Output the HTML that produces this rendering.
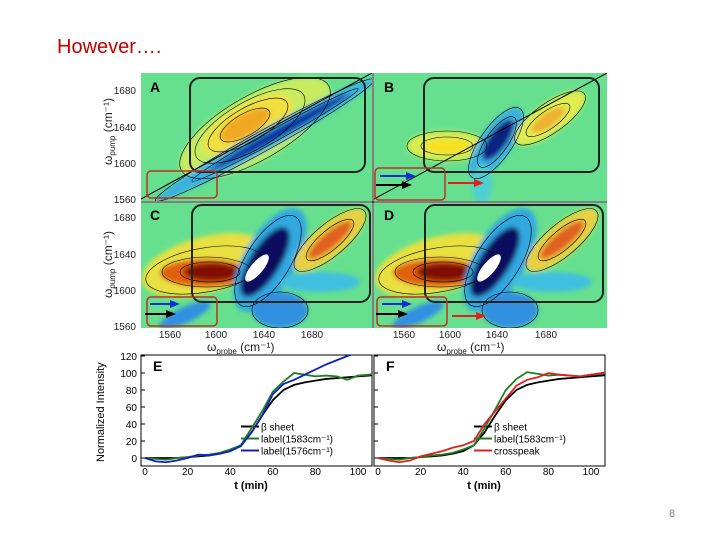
<!DOCTYPE html>
<html><head><meta charset="utf-8"><style>
body{margin:0;background:#fff;width:720px;height:540px;overflow:hidden;position:relative;font-family:"Liberation Sans",sans-serif}
#title{position:absolute;left:57px;top:36px;font-size:20px;color:#c00000}
#pnum{position:absolute;left:669px;top:508px;font-size:11px;color:#888}
svg{position:absolute;left:0;top:0}
</style></head><body>
<div id="title">However….</div>
<div id="pnum">8</div>
<svg width="720" height="540" font-family="Liberation Sans, sans-serif">
<defs>
<filter id="bl" x="-30%" y="-30%" width="160%" height="160%"><feGaussianBlur stdDeviation="2.5"/></filter>
<clipPath id="cA"><rect x="141" y="73" width="231" height="128"/></clipPath>
<clipPath id="cB"><rect x="374" y="73" width="233" height="128"/></clipPath>
<clipPath id="cC"><rect x="141" y="203" width="231" height="125"/></clipPath>
<clipPath id="cD"><rect x="374" y="203" width="233" height="125"/></clipPath>
</defs>
<!-- Panel A -->
<g clip-path="url(#cA)">
<rect x="141" y="73" width="231" height="128" fill="#66e08e"/>
<g filter="url(#bl)">
<ellipse cx="255" cy="128" rx="85" ry="32" transform="rotate(-30 255 128)" fill="#c8ec60"/>
<ellipse cx="248" cy="125" rx="50" ry="20" transform="rotate(-30 248 125)" fill="#f0e040"/>
<ellipse cx="245" cy="125" rx="28" ry="11" transform="rotate(-30 245 125)" fill="#f0a820"/>
<ellipse cx="265" cy="140" rx="125" ry="10" transform="rotate(-29 265 140)" fill="#3bb0e0"/>
<ellipse cx="280" cy="132" rx="80" ry="5" transform="rotate(-29 280 132)" fill="#1030a0"/>
</g>
<g fill="none" stroke="#000" stroke-width="0.6">
<ellipse cx="255" cy="128" rx="85" ry="32" transform="rotate(-30 255 128)"/>
<ellipse cx="250" cy="126" rx="62" ry="24" transform="rotate(-30 250 126)"/>
<ellipse cx="248" cy="125" rx="45" ry="17" transform="rotate(-30 248 125)"/>
<ellipse cx="245" cy="125" rx="28" ry="11" transform="rotate(-30 245 125)"/>
<ellipse cx="265" cy="140" rx="125" ry="10" transform="rotate(-29 265 140)"/>
<ellipse cx="275" cy="135" rx="95" ry="6" transform="rotate(-29 275 135)"/>
</g>
<line x1="141" y1="199" x2="372" y2="73" stroke="#000" stroke-width="1"/>
<rect x="190" y="78" width="175" height="94" rx="10" fill="none" stroke="#222" stroke-width="2"/>
<rect x="147" y="171" width="70" height="27" rx="4" fill="none" stroke="#c03020" stroke-width="1.5"/>
<text x="150" y="92" font-size="14" font-weight="bold">A</text>
</g>
<!-- Panel B -->
<g clip-path="url(#cB)">
<rect x="374" y="73" width="233" height="128" fill="#66e08e"/>
<g filter="url(#bl)">
<ellipse cx="447" cy="146" rx="40" ry="15" fill="#d8ec50"/>
<ellipse cx="447" cy="146" rx="22" ry="7" fill="#f8e020"/>
<ellipse cx="496" cy="143" rx="42" ry="16" transform="rotate(-55 496 143)" fill="#3bb0e0"/>
<ellipse cx="498" cy="140" rx="24" ry="9" transform="rotate(-55 498 140)" fill="#102080"/>
<ellipse cx="550" cy="118" rx="42" ry="15" transform="rotate(-35 550 118)" fill="#e0ec50"/>
<ellipse cx="548" cy="120" rx="20" ry="7" transform="rotate(-35 548 120)" fill="#f0b030"/>
<ellipse cx="482" cy="185" rx="10" ry="20" fill="#50d0d0"/>
</g>
<g fill="none" stroke="#000" stroke-width="0.6">
<ellipse cx="447" cy="146" rx="40" ry="15"/><ellipse cx="447" cy="146" rx="26" ry="9"/>
<ellipse cx="496" cy="143" rx="42" ry="16" transform="rotate(-55 496 143)"/>
<ellipse cx="497" cy="142" rx="30" ry="11" transform="rotate(-55 497 142)"/>
<ellipse cx="550" cy="118" rx="42" ry="15" transform="rotate(-35 550 118)"/>
<ellipse cx="548" cy="120" rx="26" ry="9" transform="rotate(-35 548 120)"/>
</g>
<line x1="374" y1="199" x2="607" y2="73" stroke="#000" stroke-width="1"/>
<rect x="424" y="78" width="175" height="94" rx="10" fill="none" stroke="#222" stroke-width="2"/>
<rect x="375" y="168" width="70" height="32" rx="4" fill="none" stroke="#c03020" stroke-width="1.5"/>
<line x1="380" y1="176" x2="408" y2="176" stroke="#1030d0" stroke-width="2"/><path d="M406,172L416,176L406,180z" fill="#1030d0"/>
<line x1="376" y1="185" x2="404" y2="185" stroke="#000" stroke-width="2"/><path d="M402,181L412,185L402,189z" fill="#000"/>
<line x1="448" y1="183" x2="476" y2="183" stroke="#e02020" stroke-width="2"/><path d="M474,179L484,183L474,187z" fill="#e02020"/>
<text x="384" y="92" font-size="14" font-weight="bold">B</text>
</g>
<!-- Panel C -->
<g clip-path="url(#cC)">
<rect x="141" y="203" width="231" height="125" fill="#66e08e"/>
<g filter="url(#bl)">
<ellipse cx="205" cy="265" rx="65" ry="28" transform="rotate(-15 205 265)" fill="#e8e040"/>
<ellipse cx="205" cy="273" rx="45" ry="14" fill="#e06010"/>
<ellipse cx="212" cy="272" rx="28" ry="9" fill="#801000"/>
<ellipse cx="270" cy="260" rx="58" ry="26" transform="rotate(-60 270 260)" fill="#30a8e0"/>
<ellipse cx="265" cy="262" rx="40" ry="15" transform="rotate(-58 265 262)" fill="#0a1060"/>
<ellipse cx="280" cy="310" rx="28" ry="18" fill="#3090e0"/>
<ellipse cx="320" cy="282" rx="40" ry="10" fill="#40c0e0"/>
<ellipse cx="330" cy="240" rx="45" ry="16" transform="rotate(-40 330 240)" fill="#e8d040"/>
<ellipse cx="330" cy="240" rx="28" ry="8" transform="rotate(-40 330 240)" fill="#e06020"/>
<ellipse cx="185" cy="315" rx="28" ry="8" transform="rotate(-25 185 315)" fill="#3090e0"/>
</g>
<g fill="none" stroke="#000" stroke-width="0.6">
<ellipse cx="205" cy="270" rx="60" ry="22" transform="rotate(-10 205 270)"/>
<ellipse cx="207" cy="272" rx="45" ry="15"/><ellipse cx="210" cy="272" rx="30" ry="10"/>
<ellipse cx="268" cy="261" rx="52" ry="22" transform="rotate(-58 268 261)"/>
<ellipse cx="330" cy="240" rx="45" ry="16" transform="rotate(-40 330 240)"/>
<ellipse cx="330" cy="240" rx="30" ry="10" transform="rotate(-40 330 240)"/>
<ellipse cx="280" cy="310" rx="28" ry="18"/>
</g>
<ellipse cx="257" cy="268" rx="17" ry="6" transform="rotate(-50 257 268)" fill="#fff"/>
<rect x="192" y="205" width="178" height="97" rx="10" fill="none" stroke="#222" stroke-width="2"/>
<rect x="147" y="297" width="70" height="29" rx="4" fill="none" stroke="#c03020" stroke-width="1.5"/>
<line x1="150" y1="304" x2="172" y2="304" stroke="#1030d0" stroke-width="2"/><path d="M170,300L180,304L170,308z" fill="#1030d0"/>
<line x1="145" y1="314" x2="168" y2="314" stroke="#000" stroke-width="2"/><path d="M166,310L176,314L166,318z" fill="#000"/>
<text x="150" y="220" font-size="14" font-weight="bold">C</text>
</g>
<!-- Panel D -->
<g clip-path="url(#cD)">
<rect x="374" y="203" width="233" height="125" fill="#66e08e"/>
<g filter="url(#bl)">
<ellipse cx="438" cy="265" rx="65" ry="28" transform="rotate(-15 438 265)" fill="#e8e040"/>
<ellipse cx="438" cy="273" rx="45" ry="14" fill="#e06010"/>
<ellipse cx="445" cy="272" rx="28" ry="9" fill="#801000"/>
<ellipse cx="500" cy="260" rx="58" ry="26" transform="rotate(-60 500 260)" fill="#30a8e0"/>
<ellipse cx="495" cy="262" rx="40" ry="15" transform="rotate(-58 495 262)" fill="#0a1060"/>
<ellipse cx="510" cy="310" rx="28" ry="18" fill="#3090e0"/>
<ellipse cx="552" cy="282" rx="40" ry="10" fill="#40c0e0"/>
<ellipse cx="562" cy="240" rx="45" ry="16" transform="rotate(-40 562 240)" fill="#e8d040"/>
<ellipse cx="562" cy="240" rx="28" ry="8" transform="rotate(-40 562 240)" fill="#e06020"/>
<ellipse cx="418" cy="315" rx="28" ry="8" transform="rotate(-25 418 315)" fill="#3090e0"/>
</g>
<g fill="none" stroke="#000" stroke-width="0.6">
<ellipse cx="438" cy="270" rx="60" ry="22" transform="rotate(-10 438 270)"/>
<ellipse cx="440" cy="272" rx="45" ry="15"/><ellipse cx="443" cy="272" rx="30" ry="10"/>
<ellipse cx="498" cy="261" rx="52" ry="22" transform="rotate(-58 498 261)"/>
<ellipse cx="562" cy="240" rx="45" ry="16" transform="rotate(-40 562 240)"/>
<ellipse cx="562" cy="240" rx="30" ry="10" transform="rotate(-40 562 240)"/>
<ellipse cx="510" cy="310" rx="28" ry="18"/>
</g>
<ellipse cx="489" cy="268" rx="17" ry="6" transform="rotate(-50 489 268)" fill="#fff"/>
<rect x="425" y="205" width="178" height="97" rx="10" fill="none" stroke="#222" stroke-width="2"/>
<rect x="377" y="297" width="70" height="29" rx="4" fill="none" stroke="#c03020" stroke-width="1.5"/>
<line x1="382" y1="304" x2="404" y2="304" stroke="#1030d0" stroke-width="2"/><path d="M402,300L412,304L402,308z" fill="#1030d0"/>
<line x1="376" y1="314" x2="400" y2="314" stroke="#000" stroke-width="2"/><path d="M398,310L408,314L398,318z" fill="#000"/>
<line x1="452" y1="316" x2="478" y2="316" stroke="#e02020" stroke-width="2"/><path d="M476,312L486,316L476,320z" fill="#e02020"/>
<text x="384" y="220" font-size="14" font-weight="bold">D</text>
</g>
<line x1="373" y1="73" x2="373" y2="328" stroke="#000"/>
<line x1="141" y1="202" x2="607" y2="202" stroke="#000"/>
<g font-size="10" fill="#222">
<text x="136" y="94" text-anchor="end">1680</text><text x="136" y="131" text-anchor="end">1640</text><text x="136" y="167" text-anchor="end">1600</text><text x="136" y="203" text-anchor="end">1560</text>
<text x="136" y="221" text-anchor="end">1680</text><text x="136" y="258" text-anchor="end">1640</text><text x="136" y="294" text-anchor="end">1600</text><text x="136" y="330" text-anchor="end">1560</text>
<text x="170" y="338" text-anchor="middle">1560</text><text x="216" y="338" text-anchor="middle">1600</text><text x="264" y="338" text-anchor="middle">1640</text><text x="312" y="338" text-anchor="middle">1680</text>
<text x="404" y="338" text-anchor="middle">1560</text><text x="450" y="338" text-anchor="middle">1600</text><text x="497" y="338" text-anchor="middle">1640</text><text x="546" y="338" text-anchor="middle">1680</text>
<text x="207" y="351" font-size="12">ω<tspan font-size="8" dy="3">probe</tspan><tspan dy="-3"> (cm⁻¹)</tspan></text>
<text x="437" y="351" font-size="12">ω<tspan font-size="8" dy="3">probe</tspan><tspan dy="-3"> (cm⁻¹)</tspan></text>
<text transform="translate(112,165) rotate(-90)" font-size="12">ω<tspan font-size="8" dy="3">pump</tspan><tspan dy="-3"> (cm⁻¹)</tspan></text>
<text transform="translate(112,298) rotate(-90)" font-size="12">ω<tspan font-size="8" dy="3">pump</tspan><tspan dy="-3"> (cm⁻¹)</tspan></text>
</g>
<g id="lineCharts"></g>
</svg>
<script>
const times=[0,5,10,15,20,25,30,35,40,45,50,55,60,65,70,75,80,85,90,95,100,105,110];
const betaSheet=[0,0,0,0,1,2,3,5,8,15,30,50,68,80,86,89,91,93,94,95,96,97,98];
const eLabel1583=[0,-1,-2,0,1,3,4,6,10,15,35,55,78,90,100,98,96,97,96,92,97,98,100];
const eLabel1576=[0,-4,-5,-3,0,4,3,5,8,14,30,50,75,87,92,98,104,110,115,120,124,128,130];
const fLabel1583=[0,-1,-2,0,1,3,4,6,10,15,35,57,80,93,101,99,97,98,97,96,98,99,100];
const crosspeak=[0,-3,-5,-3,2,5,8,12,15,20,40,55,70,85,92,95,100,98,97,96,98,100,102];
const yTicks=[0,20,40,60,80,100,120];
const xTicks=[0,20,40,60,80,100];
const NS='http://www.w3.org/2000/svg';
const root=document.getElementById('lineCharts');
function mk(tag,attrs,parent){const e=document.createElementNS(NS,tag);for(const k in attrs)e.setAttribute(k,attrs[k]);parent.appendChild(e);return e;}
function chart(x0,letter,series,labels,name){
  const W=231,top=355,bot=466;
  const xs=t=>x0+4+t*2.13, ys=v=>458-v*0.85;
  const g=mk('g',{},root);
  
  
  const cid='clip'+letter;
  const cp=mk('clipPath',{id:cid},g);mk('rect',{x:x0,y:top,width:W,height:bot-top},cp);
  mk('rect',{x:x0,y:top,width:W,height:bot-top,fill:'#fff',stroke:'#000'},g);
  yTicks.forEach(v=>{mk('line',{x1:x0,x2:x0+4,y1:ys(v),y2:ys(v),stroke:'#000'},g);
    if(letter==='E'){const t=mk('text',{x:x0-4,y:ys(v)+4,'text-anchor':'end','font-size':10},g);t.textContent=v;}});
  xTicks.forEach(v=>{const t=mk('text',{x:xs(v),y:bot+9,'text-anchor':'middle','font-size':10},g);t.textContent=v;});
  const xl=mk('text',{x:x0+110,y:bot+23,'text-anchor':'middle','font-size':11,'font-weight':'bold'},g);xl.textContent='t (min)';
  const L=mk('text',{x:x0+12,y:top+16,'font-size':14,'font-weight':'bold'},g);L.textContent=letter;
  series.forEach((s,i)=>{
    const p=mk('polyline',{points:s.vals.map((v,j)=>xs(times[j])+','+ys(v)).join(' '),fill:'none',stroke:s.color,'stroke-width':1.8,'clip-path':'url(#'+cid+')'},g);
    
    
    const ly=ys(37)+i*12;
    mk('line',{x1:x0+100,x2:x0+118,y1:ly,y2:ly,stroke:s.color,'stroke-width':2},g);
    const lt=mk('text',{x:x0+120,y:ly+4,'font-size':10},g);lt.textContent=labels[i];
    
    
  });
}
chart(141,'E',[{vals:betaSheet,color:'#000',name:'e-beta-sheet-line'},{vals:eLabel1583,color:'#208020',name:'e-label1583-line'},{vals:eLabel1576,color:'#1020c0',name:'e-label1576-line'}],['β sheet','label(1583cm⁻¹)','label(1576cm⁻¹)'],'chart-e');
chart(374,'F',[{vals:betaSheet,color:'#000',name:'f-beta-sheet-line'},{vals:fLabel1583,color:'#208020',name:'f-label1583-line'},{vals:crosspeak,color:'#e02020',name:'f-crosspeak-line'}],['β sheet','label(1583cm⁻¹)','crosspeak'],'chart-f');
const yt=mk('text',{transform:'translate(104,462) rotate(-90)','font-size':11},root);
yt.textContent='Normalized Intensity';


</script>
</body></html>
